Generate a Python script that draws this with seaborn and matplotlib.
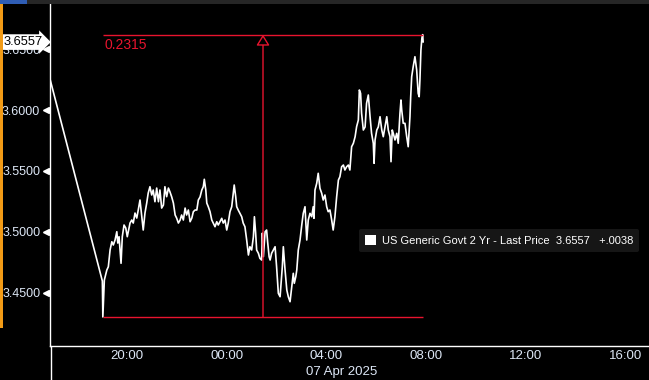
import numpy as np
import pandas as pd
import matplotlib
matplotlib.use("Agg")
import matplotlib.pyplot as plt
import matplotlib.dates as mdates
import matplotlib.transforms as mtransforms
from matplotlib.ticker import MultipleLocator, FormatStrFormatter
from matplotlib.patches import Patch, Rectangle
from matplotlib.lines import Line2D
import seaborn as sns

# ---- data ----
base_day = "2025-04-06 00:00"
hours = [16.91, 19.01, 19.03, 19.09, 19.19, 19.25, 19.32, 19.39, 19.45, 19.52, 19.59, 19.63, 19.68, 19.76,
         19.81, 19.88, 19.95, 20.01, 20.05, 20.12, 20.19, 20.25, 20.32, 20.39, 20.45, 20.52, 20.59, 20.65,
         20.72, 20.79, 20.85, 20.92, 20.99, 21.05, 21.12, 21.19, 21.26, 21.32, 21.39, 21.46, 21.52, 21.59,
         21.66, 21.72, 21.79, 21.86, 21.93, 21.99, 22.06, 22.13, 22.19, 22.26, 22.33, 22.39, 22.46, 22.53,
         22.60, 22.66, 22.73, 22.80, 22.86, 22.93, 23.00, 23.06, 23.10, 23.16, 23.20, 23.26, 23.33, 23.40,
         23.46, 23.53, 23.60, 23.66, 23.73, 23.80, 23.86, 23.93, 24.00, 24.06, 24.13, 24.20, 24.26, 24.30,
         24.36, 24.40, 24.46, 24.53, 24.60, 24.66, 24.73, 24.80, 24.87, 24.93, 25.00, 25.07, 25.11, 25.16,
         25.20, 25.27, 25.33, 25.40, 25.43, 25.47, 25.54, 25.60, 25.64, 25.70, 25.74, 25.80, 25.87, 25.94,
         26.00, 26.07, 26.14, 26.18, 26.23, 26.27, 26.34, 26.41, 26.47, 26.54, 26.61, 26.67, 26.71, 26.77,
         26.81, 26.87, 26.94, 27.01, 27.07, 27.14, 27.21, 27.27, 27.34, 27.41, 27.47, 27.50, 27.54, 27.61,
         27.67, 27.74, 27.81, 27.87, 27.94, 28.01, 28.07, 28.14, 28.21, 28.27, 28.34, 28.41, 28.48, 28.54,
         28.61, 28.68, 28.74, 28.81, 28.88, 28.94, 29.01, 29.08, 29.15, 29.21, 29.28, 29.32, 29.37, 29.41,
         29.48, 29.55, 29.61, 29.68, 29.75, 29.81, 29.88, 29.91, 29.95, 30.02, 30.08, 30.15, 30.22, 30.28,
         30.35, 30.42, 30.48, 30.55, 30.59, 30.64, 30.68, 30.75, 30.82, 30.88, 30.95, 30.99, 31.02, 31.08,
         31.15, 31.22, 31.28, 31.35, 31.38, 31.42, 31.48, 31.55, 31.62, 31.68, 31.72, 31.75, 31.79, 31.83,
         31.86, 31.88]
yields = [3.6254, 3.4598, 3.4303, 3.4606, 3.4688, 3.4715, 3.4852, 3.4920, 3.4893, 3.4934, 3.5002, 3.4909,
          3.4961, 3.4743, 3.4961, 3.5057, 3.5032, 3.4961, 3.5002, 3.5073, 3.5098, 3.5073, 3.5155, 3.5114,
          3.5180, 3.5262, 3.5125, 3.5016, 3.5155, 3.5237, 3.5319, 3.5371, 3.5303, 3.5344, 3.5248, 3.5360,
          3.5248, 3.5344, 3.5196, 3.5221, 3.5371, 3.5289, 3.5360, 3.5330, 3.5289, 3.5237, 3.5139, 3.5114,
          3.5073, 3.5098, 3.5139, 3.5098, 3.5196, 3.5139, 3.5180, 3.5084, 3.5114, 3.5166, 3.5180, 3.5180,
          3.5262, 3.5287, 3.5344, 3.5371, 3.5432, 3.5344, 3.5237, 3.5207, 3.5166, 3.5098, 3.5073, 3.5043,
          3.5084, 3.5057, 3.5084, 3.5112, 3.5073, 3.5098, 3.5016, 3.5073, 3.5166, 3.5207, 3.5317, 3.5385,
          3.5289, 3.5207, 3.5180, 3.5153, 3.5125, 3.5073, 3.5043, 3.4934, 3.4811, 3.4879, 3.4852, 3.4961,
          3.5125, 3.4991, 3.4852, 3.4825, 3.4784, 3.4770, 3.4991, 3.4797, 3.5002, 3.5016, 3.4920, 3.4797,
          3.4770, 3.4825, 3.4852, 3.4879, 3.4715, 3.4497, 3.4469, 3.4579, 3.4715, 3.4879, 3.4688, 3.4524,
          3.4469, 3.4428, 3.4551, 3.4661, 3.4579, 3.4633, 3.4688, 3.4852, 3.4934, 3.5057, 3.5153, 3.5207,
          3.4934, 3.5098, 3.5153, 3.5125, 3.5207, 3.5112, 3.5344, 3.5399, 3.5481, 3.5358, 3.5317, 3.5262,
          3.5303, 3.5207, 3.5166, 3.5180, 3.5098, 3.5016, 3.5125, 3.5289, 3.5426, 3.5453, 3.5535, 3.5549,
          3.5508, 3.5535, 3.5549, 3.5508, 3.5699, 3.5727, 3.5781, 3.5863, 3.5918, 3.6164, 3.6137, 3.5973,
          3.5836, 3.5861, 3.6055, 3.6123, 3.5945, 3.5809, 3.5727, 3.5563, 3.5754, 3.5836, 3.5861, 3.5945,
          3.5836, 3.5781, 3.5863, 3.5945, 3.5836, 3.5781, 3.5576, 3.5836, 3.5809, 3.5754, 3.5809, 3.5727,
          3.5973, 3.6082, 3.6000, 3.5891, 3.5891, 3.5781, 3.5699, 3.5945, 3.6109, 3.6273, 3.6355, 3.6437,
          3.6328, 3.6137, 3.6109, 3.6246, 3.6492, 3.6590, 3.6618, 3.6557]
series_name = "US Generic Govt 2 Yr - Last Price"
net_change = "+.0038"
date_label = "07 Apr 2025"
x_range_hours = [16.91, 40.94]
y_range = [3.4065, 3.6902]

# ---- style ----
sns.set_style("dark", {"axes.facecolor": "black", "figure.facecolor": "black",
                       "axes.edgecolor": "white", "axes.grid": False})
plt.rcParams["font.family"] = ["Liberation Sans", "DejaVu Sans"]

TXT = "#dce6f5"
RED = "#e8142e"

base = pd.Timestamp(base_day)
df = pd.DataFrame({"time": base + pd.to_timedelta(hours, unit="h"), "yield": yields})

fig = plt.figure(figsize=(6.49, 3.80), dpi=100)
fig.patch.set_facecolor("black")
ax = fig.add_axes([50 / 649, 34 / 380, 599 / 649, 346 / 380])
ax.set_facecolor("black")

sns.lineplot(data=df, x="time", y="yield", ax=ax, color="white", linewidth=1.2,
             estimator=None, sort=False)

ax.set_xlim(base + pd.Timedelta(hours=x_range_hours[0]), base + pd.Timedelta(hours=x_range_hours[1]))
ax.set_ylim(*y_range)
ax.set_xlabel("")
ax.set_ylabel("")
ax.grid(False)

for s in ["top", "right"]:
    ax.spines[s].set_visible(False)
for s in ["left", "bottom"]:
    ax.spines[s].set_color("white")
    ax.spines[s].set_linewidth(1)

# y axis
ax.yaxis.set_major_locator(MultipleLocator(0.05))
ax.yaxis.set_minor_locator(MultipleLocator(0.025))
ax.yaxis.set_major_formatter(FormatStrFormatter("%.4f"))
ax.tick_params(axis="y", which="major", length=0, pad=7, labelsize=9, labelcolor=TXT)
ax.tick_params(axis="y", which="minor", length=2.5, width=1, color="white", direction="out")
trans = mtransforms.blended_transform_factory(ax.transAxes, ax.transData)
yt = [t for t in ax.get_yticks() if y_range[0] <= t <= y_range[1]]
ax.plot([-4.5 / 599] * len(yt), yt, ls="none", marker="<", ms=5, color="white",
        transform=trans, clip_on=False)

# x axis
ax.xaxis.set_major_locator(mdates.HourLocator(byhour=[0, 4, 8, 12, 16, 20]))
ax.xaxis.set_minor_locator(mdates.HourLocator(byhour=[2, 6, 10, 14, 18, 22]))
ax.xaxis.set_major_formatter(mdates.DateFormatter("%H:%M"))
ax.tick_params(axis="x", which="major", length=0, pad=3, labelsize=9.5, labelcolor=TXT)
ax.tick_params(axis="x", which="minor", length=2.5, width=1, color="white", direction="out")
fig.text(342 / 649, 8 / 380, date_label, ha="center", va="center", fontsize=9.5, color=TXT)

# range annotation
y_arr = np.array(yields)
i_min = int(np.argmin(y_arr))
vmin, vmax = y_arr.min(), y_arr.max()
t_low, t_end = df["time"].iloc[i_min], df["time"].iloc[-1]
t_mid = t_low + (t_end - t_low) / 2
ax.hlines([vmin, vmax], t_low, t_end, color=RED, lw=1, zorder=3)
ax.annotate("", xy=(t_mid, vmax), xytext=(t_mid, vmin),
            arrowprops=dict(arrowstyle="-|>,head_length=0.65,head_width=0.4", ec=RED, fc="black",
                            lw=1, shrinkA=0, shrinkB=0), zorder=3)
ax.annotate(f"{vmax - vmin:.4f}", xy=(t_low, vmax), xytext=(1.5, -2.5), textcoords="offset points",
            ha="left", va="top", color=RED, fontsize=10)

# last price tag
last = yields[-1]
ax.text(-7.5 / 599, last, f"{last:.4f}", transform=trans, ha="right", va="center", fontsize=9.3,
        color="black", zorder=6, clip_on=False,
        bbox=dict(boxstyle="rarrow,pad=0.14", fc="white", ec="none"))

# legend
leg = ax.legend([Patch(facecolor="white", edgecolor="none")],
                [f"{series_name}  {last:.4f}   {net_change}"],
                loc="upper left", bbox_to_anchor=(309 / 599, 117 / 346), frameon=True,
                fancybox=True, facecolor="#161616", edgecolor="none", framealpha=1,
                fontsize=8, handlelength=1.0, handleheight=1.0, handletextpad=0.5,
                borderpad=0.55, borderaxespad=0)
for t in leg.get_texts():
    t.set_color("white")

# chrome: orange bar, top tab strip, divider under axis
fig.add_artist(Rectangle((0, 52 / 380), 2.5 / 649, 328 / 380, transform=fig.transFigure,
                         fc="#f29b16", ec="none"))
fig.add_artist(Rectangle((0, 376 / 380), 1, 4 / 380, transform=fig.transFigure,
                         fc="#262626", ec="none"))
fig.add_artist(Rectangle((0, 376 / 380), 27 / 649, 4 / 380, transform=fig.transFigure,
                         fc="#2f5db4", ec="none"))
fig.add_artist(Line2D([51 / 649, 51 / 649], [0, 34 / 380], transform=fig.transFigure,
                      color="white", lw=1))

fig.savefig("out.png", dpi=100, facecolor="black")
